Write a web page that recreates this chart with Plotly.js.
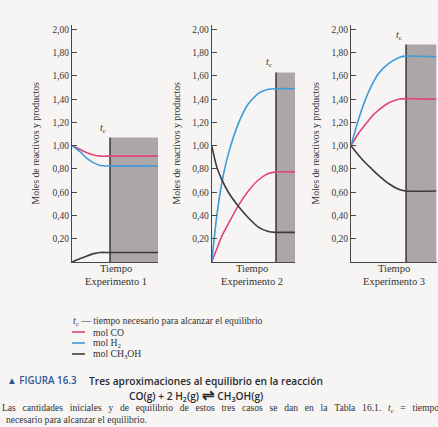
<!DOCTYPE html>
<html>
<head>
<meta charset="utf-8">
<script src="https://cdn.plot.ly/plotly-3.0.1.min.js"></script>
<style>
  html, body { margin: 0; padding: 0; background: #f6f5f3; }
  #chart { width: 438px; height: 427px; }
</style>
</head>
<body>
<div id="chart"></div>
<script>
// ---------- data ----------
const seriesNames = ["mol CO", "mol H<sub>2</sub>", "mol CH<sub>3</sub>OH"];
const experiments = ["Experimento 1", "Experimento 2", "Experimento 3"];
const yTickVals = [0.2, 0.4, 0.6, 0.8, 1.0, 1.2, 1.4, 1.6, 1.8, 2.0];

// Experiment 1 (time in arbitrary units, 0-100)
const t1     = [0, 9.7, 17.4, 25.2, 32.9, 40.6, 100];
const co1    = [1.00, 0.967, 0.94, 0.92, 0.91, 0.91, 0.91];
const h2_1   = [1.00, 0.947, 0.89, 0.852, 0.83, 0.825, 0.825];
const meoh1  = [0.00, 0.03, 0.052, 0.072, 0.082, 0.082, 0.082];

// Experiment 2
const t2     = [0, 6, 12, 20, 32, 44, 56, 68, 77, 100];
const co2    = [0.00, 0.11, 0.22, 0.33, 0.485, 0.61, 0.705, 0.76, 0.775, 0.775];
const h2_2   = [0.00, 0.39, 0.675, 0.93, 1.19, 1.36, 1.45, 1.485, 1.49, 1.49];
const meoh2  = [1.00, 0.82, 0.71, 0.60, 0.48, 0.38, 0.30, 0.262, 0.255, 0.255];

// Experiment 3
const t3     = [0, 8.6, 16.5, 24.3, 32.2, 43.9, 55.7, 63.5, 100];
const co3    = [1.00, 1.105, 1.18, 1.25, 1.305, 1.367, 1.40, 1.405, 1.40];
const h2_3   = [1.00, 1.22, 1.39, 1.52, 1.62, 1.705, 1.757, 1.77, 1.765];
const meoh3  = [1.00, 0.92, 0.855, 0.80, 0.745, 0.675, 0.625, 0.61, 0.61];

// time needed to reach equilibrium (t_c) and height of shaded region
const tc     = [44.2, 77.2, 64.4];
const boxTop = [1.07, 1.63, 1.87];

// ---------- styling ----------
const colors = ["#e0457c", "#3d9bd8", "#3e3a3c"];
const serif = "Liberation Serif";
const sans = "Open Sans";
const W = 438, H = 427;
const px = x => x / W;
const py = y => (H - y) / H;
const sp = "\u00A0\u00A0\u2009";  // justified-text word gap

const xDomains = [[72, 158], [211.7, 295], [351, 436.5]];
const yBottom = 262, yTop = 25, unit = 116.3;

const panels = [
  {t: t1, ys: [co1, h2_1, meoh1]},
  {t: t2, ys: [co2, h2_2, meoh2]},
  {t: t3, ys: [co3, h2_3, meoh3]}
];

const traces = [];
panels.forEach((p, i) => {
  const sfx = i === 0 ? "" : String(i + 1);
  p.ys.forEach((vals, k) => {
    traces.push({
      type: "scatter", mode: "lines",
      x: p.t, y: vals,
      name: seriesNames[k],
      xaxis: "x" + sfx, yaxis: "y" + sfx,
      line: {color: colors[k], width: 1.6, shape: "spline", smoothing: 0.6},
      showlegend: false, hoverinfo: "skip"
    });
  });
});

const layout = {
  width: W, height: H,
  margin: {l: 0, r: 0, t: 0, b: 0},
  paper_bgcolor: "#f6f5f3",
  plot_bgcolor: "rgba(0,0,0,0)",
  separators: ",.",
  showlegend: false,
  shapes: [],
  annotations: []
};

const yMax = (yBottom - yTop) / unit;
panels.forEach((p, i) => {
  const sfx = i === 0 ? "" : String(i + 1);
  const xa = "xaxis" + sfx, ya = "yaxis" + sfx;
  layout[xa] = {
    domain: [px(xDomains[i][0]), px(xDomains[i][1])],
    range: [0, 100], anchor: "y" + sfx,
    showgrid: false, zeroline: false, showline: true,
    linecolor: "#4a4646", linewidth: 1,
    showticklabels: false, ticks: "", fixedrange: true
  };
  layout[ya] = {
    domain: [py(yBottom), py(yTop)],
    range: [0, yMax], anchor: "x" + sfx,
    showgrid: false, zeroline: false, showline: true,
    linecolor: "#4a4646", linewidth: 1,
    ticks: "inside", ticklen: 5, tickcolor: "#4a4646", tickwidth: 1,
    tickvals: yTickVals, tickformat: ".2f",
    tickfont: {family: serif, size: 9.5, color: "#3a3636"},
    fixedrange: true
  };
  // shaded equilibrium region
  layout.shapes.push({
    type: "rect", xref: "x" + sfx, yref: "y" + sfx, layer: "below",
    x0: tc[i], x1: 100, y0: 0, y1: boxTop[i],
    fillcolor: "#aca6a9", line: {width: 0}
  });
  layout.shapes.push({
    type: "line", xref: "x" + sfx, yref: "y" + sfx, layer: "below",
    x0: tc[i], x1: tc[i], y0: 0, y1: boxTop[i],
    line: {color: "#3a3636", width: 1.5}
  });
  // t_c label
  layout.annotations.push({
    xref: "x" + sfx, yref: "y" + sfx,
    x: tc[i], y: boxTop[i], xanchor: "right", yanchor: "bottom",
    xshift: -2, yshift: 1, showarrow: false,
    text: "<i>t</i><sub>c</sub>",
    font: {family: serif, size: 10, color: "#333"}
  });
  // y axis title
  const titleX = [35, 176, 315][i];
  layout.annotations.push({
    xref: "paper", yref: "paper", x: px(titleX), y: py((yBottom + yTop) / 2),
    xanchor: "center", yanchor: "middle", textangle: -90, showarrow: false,
    text: "Moles de reactivos y productos",
    font: {family: serif, size: 9.8, color: "#333"}
  });
  // x titles
  const cx = [116, 252, 394][i];
  layout.annotations.push({
    xref: "paper", yref: "paper", x: px(cx), y: py(268),
    xanchor: "center", yanchor: "middle", showarrow: false,
    text: "Tiempo", font: {family: serif, size: 10.5, color: "#333"}
  });
  layout.annotations.push({
    xref: "paper", yref: "paper", x: px(cx), y: py(281.5),
    xanchor: "center", yanchor: "middle", showarrow: false,
    text: experiments[i], font: {family: serif, size: 10.5, color: "#333"}
  });
});

// key
layout.annotations.push({
  xref: "paper", yref: "paper", x: px(71), y: py(321),
  xanchor: "left", yanchor: "middle", showarrow: false,
  text: "<i>t</i><sub>c</sub> — tiempo necesario para alcanzar el equilibrio",
  font: {family: serif, size: 9.7, color: "#333"}
});
[332, 343, 354].forEach((yy, k) => {
  layout.shapes.push({
    type: "line", xref: "paper", yref: "paper",
    x0: px(72), x1: px(85), y0: py(yy), y1: py(yy),
    line: {color: colors[k], width: 1.6}
  });
  layout.annotations.push({
    xref: "paper", yref: "paper", x: px(91), y: py(yy),
    xanchor: "left", yanchor: "middle", showarrow: false,
    text: seriesNames[k], font: {family: serif, size: 9.7, color: "#333"}
  });
});

// caption
layout.annotations.push({
  xref: "paper", yref: "paper", x: px(5), y: py(380.5),
  xanchor: "left", yanchor: "middle", showarrow: false,
  text: "▲ FIGURA 16.3",
  font: {family: sans, size: 9.8, color: "#2c5596", weight: 600}
});
layout.annotations.push({
  xref: "paper", yref: "paper", x: px(87), y: py(380.5),
  xanchor: "left", yanchor: "middle", showarrow: false,
  text: "Tres aproximaciones al equilibrio en la reacción",
  font: {family: sans, size: 10.2, color: "#2a2a30", weight: 600}
});
layout.annotations.push({
  xref: "paper", yref: "paper", x: px(196), y: py(393.5),
  xanchor: "center", yanchor: "middle", showarrow: false,
  text: "CO(g) + 2 H<sub>2</sub>(g) <span style=\"font-size:15px\">⇌</span> CH<sub>3</sub>OH(g)",
  font: {family: sans, size: 10.2, color: "#2a2a30", weight: 600}
});
layout.annotations.push({
  xref: "paper", yref: "paper", x: px(0), y: py(407.5),
  xanchor: "left", yanchor: "middle", showarrow: false,
  text: ["Las", "cantidades", "iniciales", "y", "de", "equilibrio", "de", "estos", "tres", "casos", "se", "dan", "en", "la", "Tabla", "16.1.", "<i>t</i><sub>c</sub>", "=", "tiempo"].join(sp),
  font: {family: serif, size: 9.6, color: "#333"}
});
layout.annotations.push({
  xref: "paper", yref: "paper", x: px(4), y: py(419.5),
  xanchor: "left", yanchor: "middle", showarrow: false,
  text: "necesario para alcanzar el equilibrio.",
  font: {family: serif, size: 9.6, color: "#333"}
});

Plotly.newPlot("chart", traces, layout, {staticPlot: true, displayModeBar: false});
</script>
</body>
</html>
